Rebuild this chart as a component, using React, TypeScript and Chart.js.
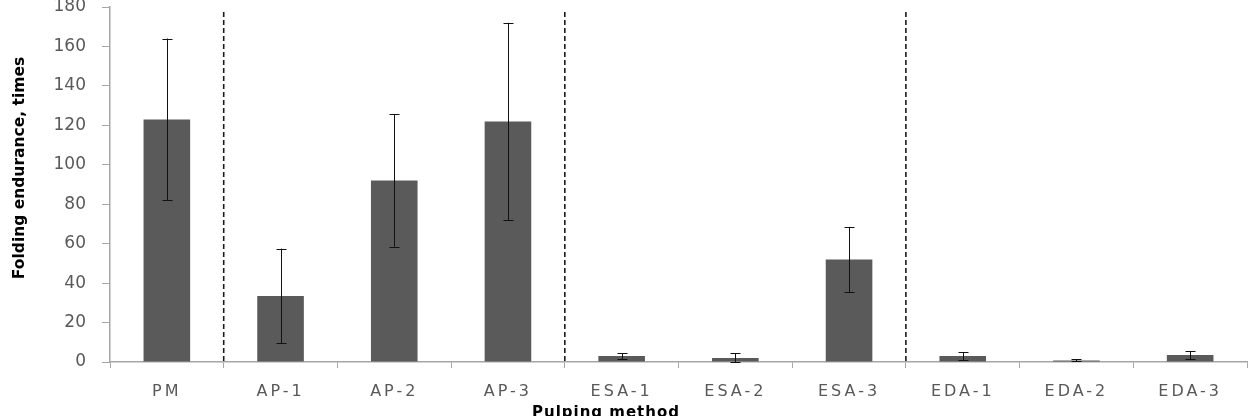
import React, { useEffect, useRef } from "react";
import { Chart, registerables } from "chart.js";

Chart.register(...registerables);

const categories = ["PM", "AP-1", "AP-2", "AP-3", "ESA-1", "ESA-2", "ESA-3", "EDA-1", "EDA-2", "EDA-3"];
const values = [123, 33.5, 92, 122, 3, 2, 52, 3, 0.8, 3.5];
const errors = [41, 24, 33.5, 50, 1.5, 2.5, 16.5, 2, 0.5, 2];
const groupBoundaries = [0, 3, 6]; // dashed line after these category indices
const yTicks = [0, 20, 40, 60, 80, 100, 120, 140, 160, 180];
const yTitle = "Folding endurance, times";
const xTitle = "Pulping method";

const FONT = "'DejaVu Sans', 'Noto Sans', sans-serif";

function patchLabelSpacing(scale: any, spacing: string) {
  if (scale.__patched) return;
  const orig = scale.drawLabels.bind(scale);
  scale.drawLabels = (area: any) => {
    const c: any = scale.ctx;
    const prev = c.letterSpacing;
    c.letterSpacing = spacing;
    orig(area);
    c.letterSpacing = prev || "0px";
  };
  scale.__patched = true;
}

export default function App() {
  const ref = useRef<HTMLCanvasElement | null>(null);

  useEffect(() => {
    if (!ref.current) return;

    const extrasPlugin = {
      id: "extras",
      afterDatasetsDraw(chart: any) {
        const { ctx, scales, chartArea } = chart;
        const x = scales.x;
        const y = scales.y;
        ctx.save();
        // error bars
        ctx.strokeStyle = "#111";
        ctx.lineWidth = 1;
        values.forEach((v, i) => {
          const px = Math.round(x.getPixelForValue(i)) + 0.5;
          const top = y.getPixelForValue(v + errors[i]);
          const bot = y.getPixelForValue(Math.max(0, v - errors[i]));
          ctx.beginPath();
          ctx.moveTo(px, top);
          ctx.lineTo(px, bot);
          ctx.moveTo(px - 5, Math.round(top) + 0.5);
          ctx.lineTo(px + 5, Math.round(top) + 0.5);
          ctx.moveTo(px - 5, Math.round(bot) + 0.5);
          ctx.lineTo(px + 5, Math.round(bot) + 0.5);
          ctx.stroke();
        });
        // dashed separators
        ctx.strokeStyle = "#1a1a1a";
        ctx.lineWidth = 1.6;
        ctx.setLineDash([5, 3]);
        groupBoundaries.forEach((i) => {
          const bx = (x.getPixelForValue(i) + x.getPixelForValue(i + 1)) / 2;
          ctx.beginPath();
          ctx.moveTo(bx, chartArea.top + 5);
          ctx.lineTo(bx, chartArea.bottom);
          ctx.stroke();
        });
        ctx.setLineDash([]);
        ctx.restore();
      },
      afterDraw(chart: any) {
        const { ctx } = chart;
        ctx.save();
        ctx.fillStyle = "#000";
        (ctx as any).letterSpacing = "0px";
        ctx.font = `bold 15.5px ${FONT}`;
        ctx.translate(20, 168);
        ctx.rotate(-Math.PI / 2);
        ctx.textAlign = "center";
        ctx.textBaseline = "middle";
        ctx.fillText(yTitle, 0, 0);
        ctx.restore();
        ctx.save();
        (ctx as any).letterSpacing = "1px";
        ctx.font = `bold 15px ${FONT}`;
        ctx.fillStyle = "#000";
        ctx.textAlign = "center";
        ctx.textBaseline = "alphabetic";
        ctx.fillText(xTitle, 606, 417);
        ctx.restore();
      },
    };

    const chart = new Chart(ref.current, {
      type: "bar",
      data: {
        labels: categories,
        datasets: [
          {
            data: values,
            backgroundColor: "#5a5a5a",
            borderWidth: 0,
            barPercentage: 0.41,
            categoryPercentage: 1,
          },
        ],
      },
      options: {
        responsive: false,
        animation: false,
        layout: { padding: { top: 7, right: 4, left: 0, bottom: 0 } },
        plugins: {
          legend: { display: false },
          tooltip: { enabled: false },
        },
        scales: {
          x: {
            grid: {
              offset: true,
              drawOnChartArea: false,
              drawTicks: true,
              tickLength: 6,
              color: "#a6a6a6",
            },
            border: { color: "#a6a6a6", width: 1.5 },
            ticks: {
              color: "#595959",
              font: { family: FONT, size: 16 },
              padding: 14,
              maxRotation: 0,
            },
            afterFit(scale: any) {
              scale.height = 54;
              scale.paddingLeft = 0;
              scale.paddingRight = 0;
            },
            afterUpdate(scale: any) {
              patchLabelSpacing(scale, "3px");
            },
          },
          y: {
            min: 0,
            max: 180,
            afterBuildTicks(scale: any) {
              scale.ticks = yTicks.map((v) => ({ value: v }));
            },
            grid: {
              drawOnChartArea: false,
              drawTicks: true,
              tickLength: 8,
              color: "#a6a6a6",
            },
            border: { color: "#a6a6a6", width: 1.5 },
            ticks: {
              color: "#595959",
              font: { family: FONT, size: 17 },
              padding: 16,
            },
            afterFit(scale: any) {
              scale.width = 110;
              scale.paddingTop = 0;
              scale.paddingBottom = 0;
            },
            afterUpdate(scale: any) {
              patchLabelSpacing(scale, "0px");
            },
          },
        },
      },
      plugins: [extrasPlugin],
    });

    return () => chart.destroy();
  }, []);

  return (
    <div style={{ position: "absolute", left: 0, top: 0, width: 1251, height: 416, background: "#fff" }}>
      <canvas ref={ref} width={1251} height={416} style={{ width: 1251, height: 416, display: "block" }} />
    </div>
  );
}
